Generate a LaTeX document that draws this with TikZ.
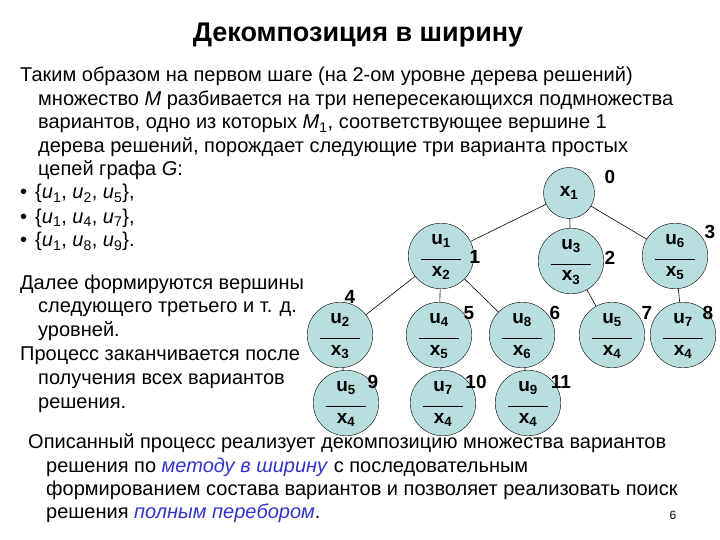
\documentclass[tikz,border=0pt]{standalone}
\usepackage{fontspec}
\setmainfont{Liberation Sans}
\definecolor{nodefill}{HTML}{B9DEE0}
\definecolor{linkblue}{HTML}{3333CC}
\begin{document}
\begin{tikzpicture}[x=1pt,y=-1pt,
  txt/.style={anchor=base west,inner sep=0pt,font=\fontsize{20}{22}\selectfont},
  vert/.style={circle,draw=black,fill=nodefill,minimum size=51pt,inner sep=0pt,font=\bfseries\fontsize{19}{20}\selectfont},
  num/.style={font=\bfseries\fontsize{19}{20}\selectfont,inner sep=0pt},
  edge/.style={draw=black,line width=0.6pt}]
\useasboundingbox (0,0) rectangle (720,540);
\newcommand{\frc}[2]{\begin{tabular}{@{}c@{}}#1\\[-4pt]\rule{40pt}{0.8pt}\\[-4pt]#2\end{tabular}}
\newcommand{\sbs}[1]{\textsubscript{#1}}
\node[anchor=base,inner sep=0pt,font=\bfseries\fontsize{27}{30}\selectfont] (title) at (358,42) {Декомпозиция в ширину};
\node[txt] (l1) at (20,82) {Таким образом на первом шаге (на 2-ом уровне дерева решений)};
\node[txt] (l2) at (38,106) {множество \textit{M} разбивается на три непересекающихся подмножества};
\node[txt] (l3) at (38,129) {вариантов, одно из которых \textit{M}\sbs{1}, соответствующее вершине 1};
\node[txt] (l4) at (38,153) {дерева решений, порождает следующие три варианта простых};
\node[txt] (l5) at (38,176) {цепей графа \textit{G}:};
\node[txt] (b1) at (20,199) {•\hspace{8pt}\{\textit{u}\sbs{1}, \textit{u}\sbs{2}, \textit{u}\sbs{5}\},};
\node[txt] (b2) at (20,223) {•\hspace{8pt}\{\textit{u}\sbs{1}, \textit{u}\sbs{4}, \textit{u}\sbs{7}\},};
\node[txt] (b3) at (20,247) {•\hspace{8pt}\{\textit{u}\sbs{1}, \textit{u}\sbs{8}, \textit{u}\sbs{9}\}.};
\node[txt] (d1) at (20,289) {Далее формируются вершины};
\node[txt] (d2) at (38,312) {следующего третьего и т. д.};
\node[txt] (d3) at (38,336) {уровней.};
\node[txt] (d4) at (20,360) {Процесс заканчивается после};
\node[txt] (d5) at (38,384) {получения всех вариантов};
\node[txt] (d6) at (38,408) {решения.};
\node[txt] (p1) at (28,448) {Описанный процесс реализует декомпозицию множества вариантов};
\node[txt] (p2) at (46,472) {решения по \textcolor{linkblue}{\textit{методу в ширину}} с последовательным};
\node[txt] (p3) at (46,495) {формированием состава вариантов и позволяет реализовать поиск};
\node[txt] (p4) at (46,518) {решения \textcolor{linkblue}{\textit{полным перебором}}.};
\node[inner sep=0pt,font=\fontsize{12}{14}\selectfont] (pg) at (673,515) {6};
% tree
\node[vert] (n0) at (569,193) {x\sbs{1}};
\node[vert] (n1) at (441,256) {\frc{u\sbs{1}}{x\sbs{2}}};
\node[vert] (n2) at (571,261) {\frc{u\sbs{3}}{x\sbs{3}}};
\node[vert] (n3) at (675,256) {\frc{u\sbs{6}}{x\sbs{5}}};
\node[vert] (n4) at (340,335) {\frc{u\sbs{2}}{x\sbs{3}}};
\node[vert] (n5) at (439,335) {\frc{u\sbs{4}}{x\sbs{5}}};
\node[vert] (n6) at (522,335) {\frc{u\sbs{8}}{x\sbs{6}}};
\node[vert] (n7) at (612,335) {\frc{u\sbs{5}}{x\sbs{4}}};
\node[vert] (n8) at (683,335) {\frc{u\sbs{7}}{x\sbs{4}}};
\node[vert] (n9) at (346,403) {\frc{u\sbs{5}}{x\sbs{4}}};
\node[vert] (n10) at (443,403) {\frc{u\sbs{7}}{x\sbs{4}}};
\node[vert] (n11) at (528,403) {\frc{u\sbs{9}}{x\sbs{4}}};
\foreach \a/\b in {n0/n1,n0/n2,n0/n3,n1/n4,n1/n5,n1/n6,n2/n7,n3/n8,n4/n9,n5/n10,n6/n11}
  \draw[edge] (\a) -- (\b);
\node[num] (k0) at (610,177) {0};
\node[num] (k1) at (475,257) {1};
\node[num] (k2) at (610,258) {2};
\node[num] (k3) at (710,232) {3};
\node[num] (k4) at (350,297) {4};
\node[num] (k5) at (469,313) {5};
\node[num] (k6) at (555,313) {6};
\node[num] (k7) at (647,313) {7};
\node[num] (k8) at (708,313) {8};
\node[num] (k9) at (373,382) {9};
\node[num] (k10) at (476,382) {10};
\node[num] (k11) at (561,382) {11};
\end{tikzpicture}
\end{document}
